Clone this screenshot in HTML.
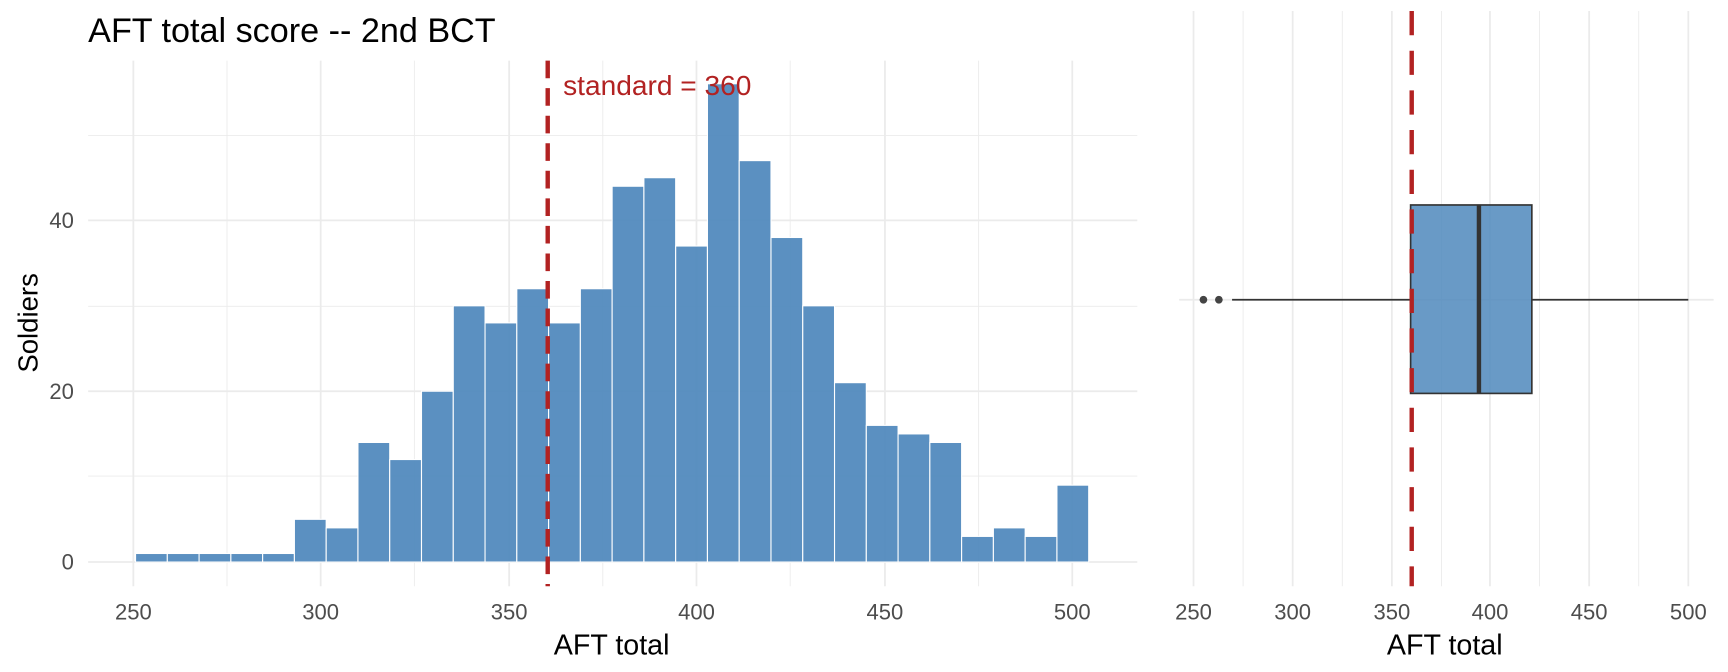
<!DOCTYPE html>
<html><head><style>html,body{margin:0;padding:0;background:#fff}svg{display:block}</style></head>
<body>
<svg width="1728" height="672" viewBox="0 0 1568 609.8" preserveAspectRatio="none" xmlns="http://www.w3.org/2000/svg" font-family="Liberation Sans, sans-serif">
<rect width="1568" height="610" fill="#fff"/>
<g stroke="#EBEBEB" stroke-width="0.8">
<line x1="80" x2="1032" y1="432" y2="432"/><line x1="80" x2="1032" y1="278" y2="278"/><line x1="80" x2="1032" y1="123" y2="123"/>
<line x1="206" x2="206" y1="55" y2="532"/><line x1="376" x2="376" y1="55" y2="532"/><line x1="547" x2="547" y1="55" y2="532"/><line x1="717" x2="717" y1="55" y2="532"/><line x1="888" x2="888" y1="55" y2="532"/>
<line x1="1128" x2="1128" y1="10" y2="532"/><line x1="1218" x2="1218" y1="10" y2="532"/><line x1="1308" x2="1308" y1="10" y2="532"/><line x1="1397" x2="1397" y1="10" y2="532"/><line x1="1487" x2="1487" y1="10" y2="532"/>
</g>
<g stroke="#EBEBEB" stroke-width="1.6">
<line x1="80" x2="1032" y1="510" y2="510"/><line x1="80" x2="1032" y1="355" y2="355"/><line x1="80" x2="1032" y1="200" y2="200"/>
<line x1="121" x2="121" y1="55" y2="532"/><line x1="291" x2="291" y1="55" y2="532"/><line x1="462" x2="462" y1="55" y2="532"/><line x1="632" x2="632" y1="55" y2="532"/><line x1="803" x2="803" y1="55" y2="532"/><line x1="973" x2="973" y1="55" y2="532"/>
<line x1="1070" x2="1555" y1="272" y2="272"/>
<line x1="1083" x2="1083" y1="10" y2="532"/><line x1="1173" x2="1173" y1="10" y2="532"/><line x1="1263" x2="1263" y1="10" y2="532"/><line x1="1352" x2="1352" y1="10" y2="532"/><line x1="1442" x2="1442" y1="10" y2="532"/><line x1="1532" x2="1532" y1="10" y2="532"/>
</g>
<g fill="#4F88BC" fill-opacity="0.93" stroke="#fff" stroke-width="1">
<rect x="123.00" y="502.25" width="28.83" height="7.75"/>
<rect x="151.83" y="502.25" width="28.83" height="7.75"/>
<rect x="180.66" y="502.25" width="28.83" height="7.75"/>
<rect x="209.49" y="502.25" width="28.83" height="7.75"/>
<rect x="238.32" y="502.25" width="28.83" height="7.75"/>
<rect x="267.15" y="471.25" width="28.83" height="38.75"/>
<rect x="295.98" y="479.00" width="28.83" height="31.00"/>
<rect x="324.81" y="401.50" width="28.83" height="108.50"/>
<rect x="353.64" y="417.00" width="28.83" height="93.00"/>
<rect x="382.47" y="355.00" width="28.83" height="155.00"/>
<rect x="411.30" y="277.50" width="28.83" height="232.50"/>
<rect x="440.13" y="293.00" width="28.83" height="217.00"/>
<rect x="468.96" y="262.00" width="28.83" height="248.00"/>
<rect x="497.79" y="293.00" width="28.83" height="217.00"/>
<rect x="526.62" y="262.00" width="28.83" height="248.00"/>
<rect x="555.45" y="169.00" width="28.83" height="341.00"/>
<rect x="584.28" y="161.25" width="28.83" height="348.75"/>
<rect x="613.11" y="223.25" width="28.83" height="286.75"/>
<rect x="641.94" y="76.00" width="28.83" height="434.00"/>
<rect x="670.77" y="145.75" width="28.83" height="364.25"/>
<rect x="699.60" y="215.50" width="28.83" height="294.50"/>
<rect x="728.43" y="277.50" width="28.83" height="232.50"/>
<rect x="757.26" y="347.25" width="28.83" height="162.75"/>
<rect x="786.09" y="386.00" width="28.83" height="124.00"/>
<rect x="814.92" y="393.75" width="28.83" height="116.25"/>
<rect x="843.75" y="401.50" width="28.83" height="108.50"/>
<rect x="872.58" y="486.75" width="28.83" height="23.25"/>
<rect x="901.41" y="479.00" width="28.83" height="31.00"/>
<rect x="930.24" y="486.75" width="28.83" height="23.25"/>
<rect x="959.07" y="440.25" width="28.83" height="69.75"/>
</g>
<line x1="497" x2="497" y1="55" y2="532" stroke="#B22222" stroke-width="4" stroke-dasharray="16,9"/>
<text x="511" y="86" font-size="25.5" fill="#B22222">standard = 360</text>
<text x="80" y="38" font-size="31" fill="#000">AFT total score -- 2nd BCT</text>
<g font-size="20" fill="#4D4D4D" text-anchor="end">
<text x="67" y="517">0</text><text x="67" y="362">20</text><text x="67" y="207">40</text></g>
<text transform="translate(34,293) rotate(-90)" font-size="25" text-anchor="middle" fill="#000">Soldiers</text>
<g font-size="20" fill="#4D4D4D" text-anchor="middle">
<text x="121" y="562">250</text><text x="291" y="562">300</text><text x="462" y="562">350</text><text x="632" y="562">400</text><text x="803" y="562">450</text><text x="973" y="562">500</text>
<text x="1083" y="562">250</text><text x="1173" y="562">300</text><text x="1263" y="562">350</text><text x="1352" y="562">400</text><text x="1442" y="562">450</text><text x="1532" y="562">500</text></g>
<g font-size="26" fill="#000" text-anchor="middle"><text x="555" y="594">AFT total</text><text x="1311" y="594">AFT total</text></g>
<line x1="1118" x2="1280" y1="272" y2="272" stroke="#333" stroke-width="1.5"/>
<line x1="1390" x2="1532" y1="272" y2="272" stroke="#333" stroke-width="1.5"/>
<rect x="1280" y="186" width="110" height="171" fill="#4F88BC" fill-opacity="0.85" stroke="#333" stroke-width="1.5"/>
<line x1="1342" x2="1342" y1="186" y2="357" stroke="#333" stroke-width="4"/>
<circle cx="1092" cy="272" r="3.5" fill="#444"/><circle cx="1106" cy="272" r="3.5" fill="#444"/>
<line x1="1281" x2="1281" y1="10" y2="532" stroke="#B22222" stroke-width="4" stroke-dasharray="22,14"/>
</svg>
</body></html>
